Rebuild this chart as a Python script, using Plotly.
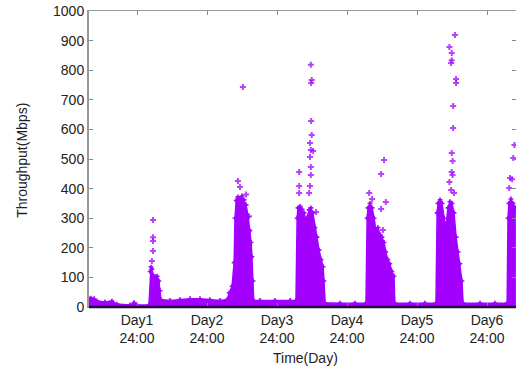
import plotly.graph_objects as go

# Dense-cluster envelope: time (hours from start of day 1) and top throughput (Mbps)
env_hours = [7.54, 8.2, 9.3, 10.3, 13.0, 15.4, 17.1, 21.6, 23.0, 24.0, 28.1,
             28.5, 28.8, 29.1, 29.5, 30.2, 30.9, 31.5, 31.9, 32.2,
             35.3, 38.7, 42.2, 45.6, 49.0, 52.5, 54.9,
             55.6, 56.6, 57.3, 57.6, 58.0, 58.6, 59.3, 60.0, 60.7, 61.4, 62.1, 62.7, 63.1, 63.4, 63.8, 64.0,
             66.2, 71.3, 76.5, 78.5,
             78.9, 79.2, 79.9, 80.6, 81.3, 81.9, 82.3, 83.0, 83.6, 84.3, 85.0, 85.7, 86.4, 87.1, 87.8, 88.1, 88.5,
             93.6, 98.7, 102.5,
             102.9, 103.2, 103.9, 104.6, 105.3, 105.9, 106.6, 107.3, 108.0, 108.7, 109.3, 110.0, 110.7, 111.4, 112.1, 112.4,
             117.6, 122.7, 126.5,
             126.9, 127.2, 127.9, 128.6, 129.3, 129.9, 130.6, 131.3, 132.0, 132.7, 133.4, 134.1, 134.7, 135.4, 135.8,
             141.6, 146.7, 150.9,
             151.2, 151.5, 152.2, 152.9, 153.9]
env_mbps = [27, 30, 28, 20, 17, 20, 10, 7, 15, 7, 7,
            120, 135, 128, 108, 102, 104, 88, 55, 25,
            22, 25, 28, 28, 25, 22, 25,
            48, 70, 150, 300, 360, 372, 366, 375, 362, 345, 305, 258, 218, 170, 88, 22,
            22, 22, 22, 22,
            300, 335, 340, 330, 318, 292, 302, 328, 335, 318, 268, 236, 192, 160, 136, 88, 14,
            13, 13, 13,
            300, 335, 350, 335, 300, 258, 268, 245, 236, 218, 186, 160, 146, 120, 104, 13,
            13, 13, 13,
            318, 350, 362, 350, 300, 268, 335, 356, 350, 318, 236, 186, 146, 88, 13,
            13, 13, 13,
            300, 350, 365, 350, 335]

# Isolated high samples
out_hours = [29.5, 29.5, 29.5, 29.5, 29.1,
             60.3, 58.6, 59.3, 61.4, 62.4,
             83.6, 83.9, 83.7, 83.7, 83.9, 83.3, 83.6, 84.4, 83.3, 83.6, 79.6, 83.6, 79.6, 83.3, 79.6, 83.0, 85.4,
             108.7, 107.7, 103.6, 109.3, 107.7, 104.6, 108.3,
             133.0, 131.1, 131.9, 131.9, 131.7, 133.4, 133.4, 132.4, 132.4, 131.9, 132.2, 131.9, 132.2, 131.1,
             131.7, 132.7,
             153.4, 153.0, 151.9, 151.6, 152.6]
out_mbps = [294, 236, 223, 189, 155,
            743, 426, 405, 380, 307,
            818, 767, 757, 628, 581, 554, 530, 527, 507, 473, 456, 446, 409, 409, 385, 385, 321,
            497, 449, 385, 355, 331, 365, 260,
            919, 878, 858, 834, 824, 770, 757, 679, 605, 520, 493, 456, 446, 422,
            395, 385,
            547, 503, 436, 402, 432]

tick_hours = [24, 48, 72, 96, 120, 144]
tick_text = ["Day1<br>24:00", "Day2<br>24:00", "Day3<br>24:00",
             "Day4<br>24:00", "Day5<br>24:00", "Day6<br>24:00"]
y_ticks = list(range(0, 1001, 100))

PURPLE = "#a200ff"
FONT = "Liberation Sans, Arial, sans-serif"

fig = go.Figure()
fig.add_trace(go.Scatter(
    x=env_hours, y=env_mbps, mode="lines+markers", fill="tozeroy",
    fillcolor=PURPLE, line=dict(color=PURPLE, width=1.5),
    marker=dict(symbol="cross", size=4, color=PURPLE),
    hoverinfo="skip", showlegend=False))
fig.add_trace(go.Scatter(
    x=out_hours, y=out_mbps, mode="markers",
    marker=dict(symbol="cross", size=5, color=PURPLE, opacity=0.75),
    showlegend=False))

fig.update_layout(
    width=516, height=371,
    margin=dict(l=89, r=0, t=11, b=64),
    paper_bgcolor="white", plot_bgcolor="white",
    font=dict(family=FONT, size=14, color="#222222"),
    xaxis=dict(range=[7.54, 153.94], tickvals=tick_hours, ticktext=tick_text,
               ticks="inside", ticklen=4, tickcolor="#888888",
               showline=True, linecolor="#999999", linewidth=1, mirror="ticks",
               showgrid=False, zeroline=False, automargin=False,
               tickfont=dict(family=FONT, size=14, color="#222222")),
    yaxis=dict(range=[0, 1000], tickvals=y_ticks,
               ticks="inside", ticklen=4, tickcolor="#888888",
               showline=True, linecolor="#999999", linewidth=2, mirror="ticks",
               showgrid=False, zeroline=False, automargin=False,
               tickfont=dict(family=FONT, size=14, color="#222222")),
    shapes=[dict(type="line", xref="paper", yref="paper", x0=0, x1=1, y0=0, y1=0,
                 line=dict(color="#240640", width=2.5), layer="above")],
    annotations=[
        dict(text="Throughput(Mbps)", xref="paper", yref="paper", x=-0.157, y=0.497,
             xanchor="center", yanchor="middle", textangle=-90, showarrow=False,
             font=dict(family=FONT, size=14, color="#222222")),
        dict(text="Time(Day)", xref="paper", yref="paper", x=0.506, y=-0.172,
             xanchor="center", yanchor="middle", showarrow=False,
             font=dict(family=FONT, size=14, color="#222222")),
    ],
)

fig.write_html("out.html",
               config={"displayModeBar": False},
               post_script="document.body.style.margin='0px';document.body.style.padding='0px';document.body.style.overflow='hidden';")
